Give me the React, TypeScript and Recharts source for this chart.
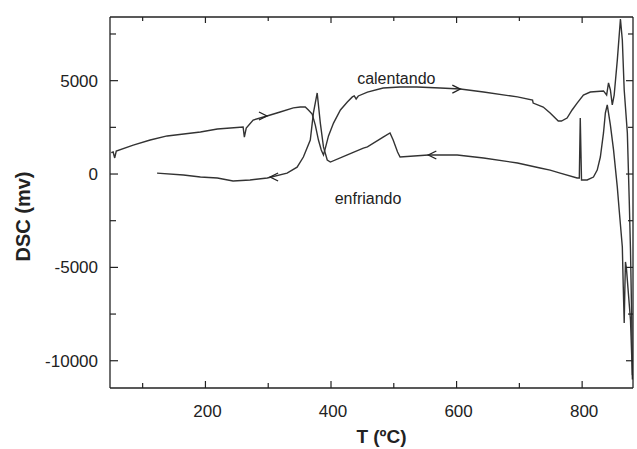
import * as React from "react"
import { LineChart, Line, XAxis, YAxis, ReferenceDot } from "recharts"

// heating run ("calentando"), T in ºC, DSC in mv
const heatT = [50, 53, 55.5, 58, 85, 112, 139, 192, 219, 260, 262, 265, 276, 298, 319, 340, 351, 359, 364, 370, 375, 380, 384.5, 388, 391, 396, 404, 415, 426, 434, 437, 440, 443.5, 458, 483, 510, 537, 574, 606, 643, 697, 721, 722, 738, 749, 762, 767, 776, 784, 792, 802, 813, 834, 839, 842, 845, 848, 851, 856, 861, 864, 867, 872, 875, 877, 879, 880]
const heatDSC = [1150, 1180, 860, 1230, 1550, 1820, 2040, 2250, 2410, 2520, 1980, 2460, 2890, 3110, 3320, 3540, 3590, 3590, 3430, 3210, 2620, 1820, 1290, 1020, 1390, 2040, 2730, 3430, 3860, 4130, 4180, 4020, 4180, 4390, 4610, 4660, 4660, 4610, 4550, 4390, 4130, 3960, 3800, 3590, 3270, 2840, 2840, 3000, 3430, 3800, 4230, 4390, 4450, 4230, 4880, 4500, 3700, 4230, 6100, 8300, 7180, 4500, 2200, -1390, -4070, -7820, -11000]

// cooling run ("enfriando"), drawn from high T back down
const coolT = [880, 877, 870.5, 869, 868, 867, 865.5, 864, 859, 856, 850, 845, 840, 837, 834, 829, 824, 818, 808, 799, 797, 795.5, 792, 765, 749, 733, 697, 643, 601, 555, 510, 506, 499, 494, 483, 458, 451.5, 426, 399, 394, 388, 383, 378, 372, 367, 356, 346, 330, 298.5, 271, 244, 219, 192, 165, 123]
const coolDSC = [-10770, -7820, -5040, -4710, -6210, -7980, -6050, -3910, -1930, -700, 1290, 2620, 3700, 3270, 2200, 910, 210, -160, -320, -320, 3000, -210, -210, 50, 210, 320, 590, 860, 1020, 1020, 910, 1180, 1820, 2200, 1980, 1450, 1390, 1020, 640, 750, 1450, 2730, 4340, 3270, 1820, 910, 370, 50, -210, -320, -370, -210, -160, -50, 50]

const xTicks = [100, 200, 300, 400, 500, 600, 700, 800]
const xLabels = [200, 400, 600, 800]
const yTicks = [-10000, -7500, -5000, -2500, 0, 2500, 5000, 7500]
const yLabels = [-10000, -5000, 0, 5000]

const heatArrows = [[298, 3110], [606, 4550]]
const coolArrows = [[303, -160], [555, 1020]]
const notes = [
  { text: "calentando", t: 504, dsc: 4820 },
  { text: "enfriando", t: 459, dsc: -1610 },
]

const heating = heatT.map((t, i) => ({ t, dsc: heatDSC[i] }))
const cooling = coolT.map((t, i) => ({ t, dsc: coolDSC[i] }))

const FONT = "'Liberation Sans', Arial, sans-serif"
const INK = "#222"
const CURVE = "#333"
const X_DOMAIN = [48, 881]
const Y_DOMAIN = [-11460, 8410]

const BottomTick = (props: any) => {
  const { x, y, payload } = props
  const major = xLabels.includes(payload.value)
  return (
    <g>
      <line x1={x} y1={y} x2={x} y2={y - (major ? 7 : 5)} stroke={INK} strokeWidth={1.2} />
      {major && (
        <text x={x + 2} y={y + 29} textAnchor="middle" fontSize={17} fontFamily={FONT} fill={INK}>
          {payload.value}
        </text>
      )}
    </g>
  )
}

const TopTick = (props: any) => {
  const { x, y, payload } = props
  const major = xLabels.includes(payload.value)
  return <line x1={x} y1={y} x2={x} y2={y + (major ? 6 : 4)} stroke={INK} strokeWidth={1.2} />
}

const LeftTick = (props: any) => {
  const { x, y, payload } = props
  const major = yLabels.includes(payload.value)
  return (
    <g>
      <line x1={x} y1={y} x2={x + (major ? 8 : 6)} y2={y} stroke={INK} strokeWidth={1.2} />
      {major && (
        <text x={x - 12} y={y + 6} textAnchor="end" fontSize={17} fontFamily={FONT} fill={INK}>
          {payload.value}
        </text>
      )}
    </g>
  )
}

const RightTick = (props: any) => {
  const { x, y, payload } = props
  const major = yLabels.includes(payload.value)
  return <line x1={x} y1={y} x2={x - (major ? 7 : 5)} y2={y} stroke={INK} strokeWidth={1.2} />
}

const XTitle = (props: any) => {
  const { x, y, width } = props.viewBox
  return (
    <text x={x + width / 2 + 10} y={y + 55} textAnchor="middle" fontSize={19} fontWeight="bold" fontFamily={FONT} fill={INK}>
      T (ºC)
    </text>
  )
}

const YTitle = (props: any) => {
  const { y, height } = props.viewBox
  const cy = y + height / 2 + 14
  return (
    <text transform={`translate(30,${cy}) rotate(-90)`} textAnchor="middle" fontSize={20} fontWeight="bold" fontFamily={FONT} fill={INK}>
      DSC (mv)
    </text>
  )
}

const Arrow = (dir: number) => (props: any) => {
  const { cx, cy } = props
  return (
    <path
      d={`M${cx - dir * 8},${cy - 4} L${cx},${cy} L${cx - dir * 8},${cy + 4}`}
      fill="none"
      stroke={INK}
      strokeWidth={1.3}
    />
  )
}

const Note = (text: string) => (props: any) => {
  const { cx, cy } = props
  return (
    <text x={cx} y={cy} textAnchor="middle" fontSize={16} fontFamily={FONT} fill={INK}>
      {text}
    </text>
  )
}

export default function App() {
  return (
    <div style={{ position: "absolute", left: 0, top: 0, background: "#fff" }}>
      <LineChart width={637} height={449} margin={{ top: 16, right: 0, bottom: 1, left: 0 }}>
        <XAxis
          xAxisId="bottom"
          dataKey="t"
          type="number"
          domain={X_DOMAIN}
          ticks={xTicks}
          interval={0}
          height={60}
          tickSize={0}
          tickMargin={0}
          tickLine={false}
          axisLine={{ stroke: INK, strokeWidth: 1.3 }}
          tick={<BottomTick />}
          label={<XTitle />}
        />
        <XAxis
          xAxisId="top"
          dataKey="t"
          orientation="top"
          type="number"
          domain={X_DOMAIN}
          allowDataOverflow
          ticks={xTicks}
          interval={0}
          height={1}
          tickSize={0}
          tickMargin={0}
          tickLine={false}
          axisLine={{ stroke: INK, strokeWidth: 1.3 }}
          tick={<TopTick />}
        />
        <YAxis
          yAxisId="left"
          type="number"
          domain={Y_DOMAIN}
          ticks={yTicks}
          interval={0}
          width={110}
          tickSize={0}
          tickMargin={0}
          tickLine={false}
          axisLine={{ stroke: INK, strokeWidth: 1.3 }}
          tick={<LeftTick />}
          label={<YTitle />}
        />
        <YAxis
          yAxisId="right"
          orientation="right"
          type="number"
          domain={Y_DOMAIN}
          allowDataOverflow
          ticks={yTicks}
          interval={0}
          width={4}
          tickSize={0}
          tickMargin={0}
          tickLine={false}
          axisLine={{ stroke: INK, strokeWidth: 1.3 }}
          tick={<RightTick />}
        />
        {/* invisible copy so the top and right frame axes have a series bound to them */}
        <Line
          xAxisId="top"
          yAxisId="right"
          data={heating}
          dataKey="dsc"
          type="linear"
          dot={false}
          stroke="none"
          legendType="none"
          isAnimationActive={false}
        />
        <Line
          xAxisId="bottom"
          yAxisId="left"
          data={heating}
          dataKey="dsc"
          type="linear"
          dot={false}
          stroke={CURVE}
          strokeWidth={1.4}
          isAnimationActive={false}
        />
        <Line
          xAxisId="bottom"
          yAxisId="left"
          data={cooling}
          dataKey="dsc"
          type="linear"
          dot={false}
          stroke={CURVE}
          strokeWidth={1.4}
          isAnimationActive={false}
        />
        {heatArrows.map(([t, d], i) => (
          <ReferenceDot key={"h" + i} xAxisId="bottom" yAxisId="left" x={t} y={d} shape={Arrow(1)} />
        ))}
        {coolArrows.map(([t, d], i) => (
          <ReferenceDot key={"c" + i} xAxisId="bottom" yAxisId="left" x={t} y={d} shape={Arrow(-1)} />
        ))}
        {notes.map((n) => (
          <ReferenceDot key={n.text} xAxisId="bottom" yAxisId="left" x={n.t} y={n.dsc} shape={Note(n.text)} />
        ))}
      </LineChart>
    </div>
  )
}
